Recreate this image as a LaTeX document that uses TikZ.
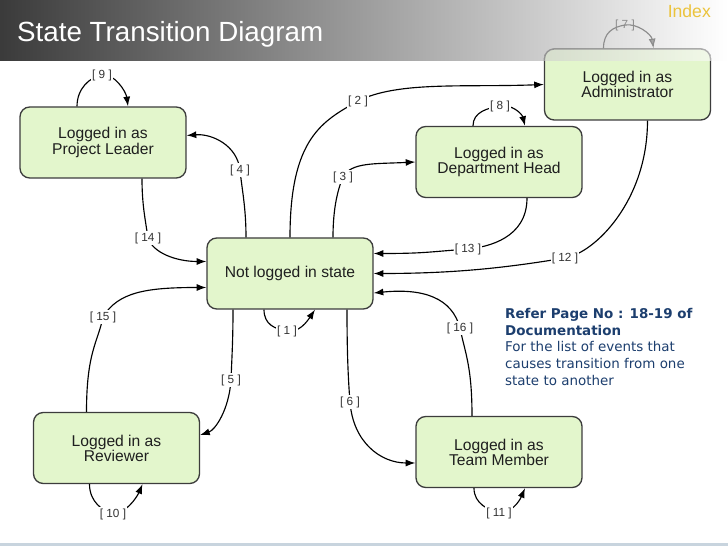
\documentclass[tikz,border=0pt]{standalone}
\usepackage{fontspec}
\setmainfont{Liberation Sans}
\newfontfamily\notefont{DejaVu Sans}
\usetikzlibrary{arrows.meta,calc}

\definecolor{boxfill}{RGB}{227,246,204}
\definecolor{boxline}{RGB}{60,60,60}
\definecolor{notecol}{RGB}{28,62,110}
\definecolor{indexcol}{RGB}{235,195,60}
\definecolor{stripcol}{RGB}{200,212,222}

\tikzset{
  state/.style={draw=boxline, line width=0.75pt, fill=boxfill, rounded corners=5.5pt,
    minimum width=3.32cm, minimum height=1.42cm, align=center,
    font=\fontsize{8.9}{8.6}\selectfont, text=black!88},
  trans/.style={draw=black, line width=0.65pt},
  arr/.style={trans, -{Latex[length=5.5pt,width=4pt]}},
  evlabel/.style={fill=white, inner sep=0.6pt, font=\fontsize{6.7}{7}\selectfont, text=black!80},
  headband/.style={left color=black!77, right color=white},
}

\begin{document}
\begin{tikzpicture}[x=0.02cm, y=-0.02cm]
  \useasboundingbox (0,0) rectangle (728,546);
  \fill[white] (0,0) rectangle (728,546);

  % header band
  \shade[headband] (0,0) rectangle (728,61);
  \node[anchor=base west, text=white, font=\fontsize{15.8}{16}\selectfont] (title) at (11,42) {State Transition Diagram};
  \node[anchor=base east, text=indexcol, font=\fontsize{10}{12}\selectfont] (index) at (717,18) {Index};

  % states
  \node[state] (pl)  at (103,142.5) {Logged in as\\Project Leader};
  \node[state] (nl)  at (290,273.5) {Not logged in state};
  \node[state] (adm) at (627.5,84.5) {Logged in as\\Administrator};
  \node[state] (dh)  at (499,162)   {Logged in as\\Department Head};
  \node[state] (rev) at (116.5,448) {Logged in as\\Reviewer};
  \node[state] (tm)  at (499,452)   {Logged in as\\Team Member};

  % header over the top of the administrator box
  \begin{scope}
    \clip[rounded corners=5.5pt] (adm.south west) rectangle (adm.north east);
    \shade[headband, opacity=0.6] (0,0) rectangle (728,61);
  \end{scope}

  % label points
  \coordinate (c1) at (287,331);
  \coordinate (c2) at (358,101);
  \coordinate (c3) at (343,177);
  \coordinate (c4) at (240,170);
  \coordinate (c5) at (231,380);
  \coordinate (c6) at (350,402);
  \coordinate (c7) at (625,25);
  \coordinate (c8) at (500,106);
  \coordinate (c9) at (102,75);
  \coordinate (c10) at (113,514);
  \coordinate (c11) at (499,513);
  \coordinate (c12) at (565,258);
  \coordinate (c13) at (468,249);
  \coordinate (c14) at (148,238);
  \coordinate (c15) at (103,317);
  \coordinate (c16) at (460,328);

  % self loops
  \draw[arr] ($(nl.south)+(-26,0)$) .. controls +(0,15) and +(-12,-2) .. (c1)
    .. controls +(12,2) and +(-8,12) .. ($(nl.south)+(25,0)$);
  \draw[arr, draw=black!45, -{Latex[length=5.5pt,width=4pt,fill=black!35]}] ($(adm.north)+(-24,0)$) .. controls +(0,-16) and +(-12,2) .. (c7)
    .. controls +(12,-2) and +(-2,-14) .. ($(adm.north)+(26,0)$);
  \draw[arr] ($(dh.north)+(-26,0)$) .. controls +(0,-14) and +(-12,2) .. (c8)
    .. controls +(12,-2) and +(-3,-12) .. ($(dh.north)+(26,0)$);
  \draw[arr] ($(pl.north)+(-26,0)$) .. controls +(0,-18) and +(-12,2) .. (c9)
    .. controls +(12,-2) and +(-2,-15) .. ($(pl.north)+(25,0)$);
  \draw[arr] ($(rev.south)+(-27,0)$) .. controls +(0,18) and +(-10,-3) .. (c10)
    .. controls +(12,0) and +(-6,14) .. ($(rev.south)+(26,0)$);
  \draw[arr] ($(tm.south)+(-25,0)$) .. controls +(0,16) and +(-10,-3) .. (c11)
    .. controls +(12,0) and +(-6,14) .. ($(tm.south)+(26,0)$);

  % out of not logged in state
  \draw[arr] (nl.north) .. controls +(0,-100) and +(-35,20) .. (c2)
    .. controls +(40,-20) and +(-80,3) .. (adm.west);
  \draw[arr] ($(nl.north)+(43,0)$) .. controls +(0,-30) and +(-5,12) .. (c3)
    .. controls +(8,-15) and +(-40,2) .. (dh.west);
  \draw[arr] ($(nl.north)+(-44,0)$) .. controls +(0,-30) and +(2,20) .. (c4)
    .. controls +(-3,-25) and +(25,-2) .. ($(pl.east)+(0,-7)$);
  \draw[arr] ($(nl.south)+(-57,0)$) .. controls +(0,30) and +(1,-25) .. (c5)
    .. controls +(-2,30) and +(15,-5) .. ($(rev.east)+(0,-13)$);
  \draw[arr] ($(nl.south)+(57,0)$) .. controls +(0,40) and +(-2,-25) .. (c6)
    .. controls +(3,40) and +(-35,0) .. ($(tm.west)+(0,11)$);

  % back to not logged in state
  \draw[arr] ($(adm.south)+(20,0)$) .. controls +(0,80) and +(30,-5) .. (c12)
    .. controls +(-60,10) and +(80,0) .. (nl.east);
  \draw[arr] ($(dh.south)+(28,0)$) .. controls +(0,40) and +(20,-2) .. (c13)
    .. controls +(-40,3) and +(50,0) .. ($(nl.east)+(0,-20)$);
  \draw[arr] ($(pl.south)+(39,0)$) .. controls +(0,25) and +(-3,-20) .. (c14)
    .. controls +(5,15) and +(-30,0) .. ($(nl.west)+(0,-12)$);
  \draw[arr] ($(rev.north)+(-30,0)$) .. controls +(0,-60) and +(-5,25) .. (c15)
    .. controls +(15,-25) and +(-60,0) .. ($(nl.west)+(0,14)$);
  \draw[arr] ($(tm.north)+(-27,0)$) .. controls +(0,-50) and +(5,25) .. (c16)
    .. controls +(-8,-30) and +(50,-5) .. ($(nl.east)+(0,19.5)$);

  % event labels
  \foreach \n in {1,...,6,8,9,...,16}
    \node[evlabel] (l\n) at (c\n) {[ \n\ ]};
  \node[evlabel, fill=none, text=black!45] (l7) at (c7) {[ 7 ]};

  % note
  \node[anchor=north west, align=left, text=notecol,
    font=\notefont\fontsize{7.65}{9.5}\selectfont] (note) at (499,302)
    {\textbf{Refer Page No : 18-19 of}\\\textbf{Documentation}\\For the list of events that\\causes transition from one\\state to another};

  % bottom strip
  \fill[stripcol] (0,543) rectangle (728,546);
\end{tikzpicture}
\end{document}
